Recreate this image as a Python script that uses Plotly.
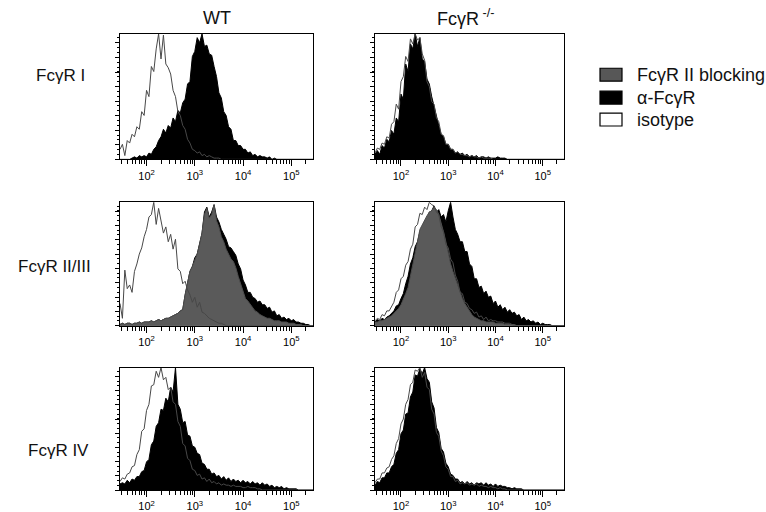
import math
import plotly.graph_objects as go

# ---------------- data ----------------
# histogram bins: log10 fluorescence, 0.05-decade bins from 10^1.45 to 10^5.45
LOG_BINS = [round(1.45 + 0.05 * i, 2) for i in range(81)]
X_VALS = [10 ** v for v in LOG_BINS]

def pad(vals):
    return vals + [0] * (81 - len(vals))

# normalised event counts (% of max)
TL_ISO = pad([8, 12, 3, 15, 13, 20, 18, 26, 24, 38, 35, 55, 50, 74, 70, 88, 100, 80, 99, 76,
              73, 68, 55, 50, 38, 35, 27, 24, 16, 13, 8, 7, 5, 6, 3, 4, 2, 3, 2, 1, 1, 1])
TL_BLK = pad([0, 0, 0, 0, 0, 1, 2, 1, 3, 2, 3, 2, 5, 4, 8, 10, 15, 18, 24, 21,
              27, 25, 33, 30, 39, 37, 45, 48, 60, 62, 82, 86, 97, 93, 100, 90, 91, 84, 83, 74,
              66, 53, 49, 38, 35, 26, 24, 15, 15, 11, 11, 8, 8, 5, 6, 3, 4, 2, 3, 2,
              2, 1, 2, 0, 1])
TR_ISO = pad([5, 9, 8, 13, 12, 18, 17, 28, 30, 44, 40, 62, 66, 82, 78, 96, 92, 100, 95, 97,
              84, 79, 62, 58, 46, 44, 33, 30, 20, 19, 12, 12, 8, 8, 5, 6, 4, 4, 3, 3,
              2, 3, 2, 2, 1, 2, 1, 1, 1, 1])
TR_BLK = pad([4, 7, 4, 11, 9, 16, 14, 23, 20, 33, 30, 52, 48, 76, 70, 92, 88, 100, 90, 97,
              80, 78, 64, 60, 50, 42, 33, 27, 20, 18, 12, 12, 8, 8, 5, 6, 4, 5, 3, 4,
              2, 3, 2, 3, 1, 2, 2, 1, 2, 1, 1, 1, 2, 1, 1, 1])
ML_ISO = pad([18, 6, 45, 30, 33, 27, 44, 50, 58, 63, 72, 78, 88, 90, 100, 82, 95, 86, 75, 80,
              68, 74, 62, 70, 46, 44, 34, 36, 29, 25, 19, 23, 15, 19, 11, 10, 8, 6, 5, 4,
              3, 2, 2, 1])
ML_BLK = pad([1, 2, 1, 2, 2, 1, 2, 2, 3, 2, 3, 3, 3, 4, 3, 4, 5, 4, 5, 6,
              6, 7, 8, 9, 10, 12, 13, 25, 36, 44, 48, 55, 58, 68, 75, 92, 96, 88, 92, 98,
              88, 84, 78, 74, 70, 64, 63, 60, 57, 50, 46, 37, 33, 27, 27, 23, 22, 19, 20, 17,
              17, 14, 15, 11, 12, 8, 9, 6, 7, 5, 6, 4, 5, 3, 3, 2, 2, 1, 1])
ML_GRY = pad([1, 2, 1, 2, 2, 1, 2, 2, 3, 2, 3, 3, 3, 4, 3, 4, 5, 4, 5, 6,
              6, 7, 8, 9, 10, 12, 13, 25, 36, 44, 48, 53, 58, 66, 75, 90, 95, 87, 90, 98,
              85, 80, 72, 68, 62, 58, 54, 52, 47, 40, 34, 28, 22, 20, 17, 14, 12, 11, 9, 8,
              7, 6, 6, 5, 4, 4, 4, 3, 3, 3, 2, 2, 2, 1, 1, 1])
MR_ISO = pad([4, 6, 5, 9, 8, 12, 12, 16, 19, 27, 29, 38, 40, 49, 52, 62, 66, 80, 82, 91,
              90, 96, 94, 100, 98, 97, 92, 90, 80, 76, 66, 63, 54, 51, 41, 36, 27, 26, 19, 18,
              14, 13, 10, 11, 7, 8, 5, 7, 4, 5, 4, 4, 3, 3, 3, 2, 2, 2, 1])
MR_GRY = pad([3, 3, 4, 4, 5, 6, 7, 8, 10, 12, 14, 17, 21, 26, 31, 40, 50, 57, 68, 78,
              82, 86, 89, 92, 93, 96, 94, 90, 84, 76, 68, 58, 50, 44, 38, 32, 27, 22, 18, 15,
              11, 9, 7, 6, 5, 4, 4, 3, 3, 3, 3, 2, 2, 2, 2, 1, 1, 1, 1, 1])
MR_BLK = pad([3, 5, 4, 6, 5, 7, 8, 10, 12, 16, 17, 22, 26, 34, 40, 50, 55, 64, 68, 76,
              78, 84, 86, 92, 93, 97, 92, 94, 88, 90, 84, 93, 100, 88, 78, 74, 68, 68, 60, 60,
              50, 48, 38, 38, 31, 32, 26, 28, 23, 24, 18, 20, 15, 17, 13, 15, 11, 13, 10, 11,
              8, 9, 5, 7, 4, 5, 3, 4, 2, 3, 1, 2, 1, 1, 1])
BL_ISO = pad([7, 10, 9, 13, 14, 19, 20, 29, 33, 48, 50, 65, 70, 85, 86, 97, 92, 100, 90, 92,
              82, 84, 72, 70, 56, 52, 38, 36, 26, 24, 17, 16, 12, 13, 9, 10, 7, 9, 6, 7,
              5, 6, 4, 5, 4, 4, 3, 4, 3, 3, 3, 2, 2, 3, 2, 2, 2, 1, 1])
BL_BLK = pad([5, 6, 5, 8, 6, 9, 8, 11, 11, 15, 16, 23, 25, 37, 40, 52, 55, 66, 65, 75,
              72, 84, 80, 100, 70, 66, 55, 56, 45, 44, 36, 35, 30, 29, 22, 21, 17, 17, 13, 14,
              11, 12, 9, 11, 8, 10, 7, 9, 7, 8, 6, 8, 6, 7, 5, 7, 5, 6, 4, 6,
              4, 5, 3, 4, 2, 3, 2, 3, 1, 2, 1, 1, 1, 1])
BR_ISO = pad([6, 9, 9, 14, 14, 18, 19, 25, 28, 38, 42, 54, 58, 70, 74, 86, 88, 98, 97, 100,
              92, 96, 84, 82, 66, 62, 47, 44, 32, 28, 19, 17, 11, 11, 7, 8, 5, 6, 5, 6,
              4, 5, 4, 5, 3, 4, 3, 3, 2, 3, 2, 2, 1, 2, 1, 1])
BR_BLK = pad([4, 7, 6, 10, 10, 14, 14, 19, 21, 30, 33, 46, 49, 62, 63, 76, 80, 94, 93, 99,
              95, 100, 91, 88, 72, 67, 51, 47, 34, 31, 22, 19, 13, 12, 9, 9, 6, 7, 5, 7,
              5, 6, 4, 6, 5, 6, 4, 6, 4, 5, 3, 5, 3, 4, 3, 3, 2, 2, 1, 2,
              1, 1, 1])

COL_TITLES = ["WT", "FcγR<sup> -/-</sup>"]
ROW_TITLES = ["FcγR I", "FcγR II/III", "FcγR IV"]
LEGEND_LABELS = ["FcγR II blocking", "α-FcγR", "isotype"]
TICK_VALS = [1e2, 1e3, 1e4, 1e5]
TICK_TEXT = ["10<sup>2</sup>", "10<sup>3</sup>", "10<sup>4</sup>", "10<sup>5</sup>"]
MINOR_VALS = [m * 10 ** e for e in range(1, 6) for m in range(2, 10)
              if 1.45 <= math.log10(m * 10 ** e) <= 5.45]

# panels: (row, col, alpha, blocking, isotype)
PANELS = [
    (0, 0, TL_BLK, None, TL_ISO),
    (0, 1, TR_BLK, None, TR_ISO),
    (1, 0, ML_BLK, ML_GRY, ML_ISO),
    (1, 1, MR_BLK, MR_GRY, MR_ISO),
    (2, 0, BL_BLK, None, BL_ISO),
    (2, 1, BR_BLK, None, BR_ISO),
]

# ---------------- layout geometry (pixels) ----------------
W, H = 766, 512
COL_PX = [(120, 313), (375, 564)]
ROW_PX = [(34, 160), (203, 327), (369, 492)]
FONT = "Liberation Sans, Arial, sans-serif"

fig = go.Figure()
layout = dict(
    width=W, height=H, margin=dict(l=0, r=0, t=0, b=0),
    paper_bgcolor="white", plot_bgcolor="white", showlegend=False,
    font=dict(family=FONT, color="#111"),
)

for k, (r, c, blk, gry, iso) in enumerate(PANELS):
    idx = "" if k == 0 else str(k + 1)
    xa, ya = "x" + idx, "y" + idx
    fig.add_trace(go.Scatter(x=X_VALS, y=blk, mode="lines",
                             line=dict(color="black", width=1), fill="tozeroy",
                             fillcolor="black", xaxis=xa, yaxis=ya, name=LEGEND_LABELS[1]))
    if gry is not None:
        fig.add_trace(go.Scatter(x=X_VALS, y=gry, mode="lines",
                                 line=dict(color="#4d4d4d", width=1), fill="tozeroy",
                                 fillcolor="#5a5a5a", xaxis=xa, yaxis=ya,
                                 name=LEGEND_LABELS[0]))
    fig.add_trace(go.Scatter(x=X_VALS, y=iso, mode="lines",
                             line=dict(color="#484848", width=1), xaxis=xa, yaxis=ya,
                             name=LEGEND_LABELS[2]))
    x0, x1 = COL_PX[c]
    y0, y1 = ROW_PX[r]
    layout["xaxis" + idx] = dict(
        type="log", range=[1.45, 5.45], domain=[x0 / W, x1 / W], anchor=ya,
        showline=True, linecolor="black", linewidth=1, mirror=True,
        showgrid=False, zeroline=False,
        tickmode="array", tickvals=TICK_VALS, ticktext=TICK_TEXT,
        ticks="outside", ticklen=6, tickwidth=1, tickcolor="black",
        tickfont=dict(size=11, family=FONT, color="black"),
        minor=dict(tickmode="array", tickvals=MINOR_VALS, ticks="outside",
                   ticklen=4, tickwidth=1, tickcolor="black", showgrid=False),
        fixedrange=True,
    )
    layout["yaxis" + idx] = dict(
        range=[0, 100], domain=[1 - y1 / H, 1 - y0 / H], anchor=xa,
        showline=True, linecolor="black", linewidth=1, mirror=True,
        showgrid=False, zeroline=False, showticklabels=False,
        tick0=0, dtick=11.6, ticks="outside", ticklen=4, tickwidth=1, tickcolor="black",
        minor=dict(dtick=3.87, ticks="outside", ticklen=2, tickwidth=1,
                   tickcolor="black", showgrid=False),
        fixedrange=True,
    )

fig.update_layout(**layout)

ann = []
for c, t in enumerate(COL_TITLES):
    ann.append(dict(x=(COL_PX[c][0] + COL_PX[c][1]) / 2 / W - (0 if c == 0 else 0.005),
                    y=1 - 18 / H, text=t, xref="paper", yref="paper", showarrow=False,
                    xanchor="center", yanchor="middle",
                    font=dict(size=18, family=FONT, color="#111")))
row_label_x = [60, 54, 58]
row_label_y = [76, 268, 452]
for r, t in enumerate(ROW_TITLES):
    ann.append(dict(x=row_label_x[r] / W, y=1 - row_label_y[r] / H, text=t,
                    xref="paper", yref="paper", showarrow=False,
                    xanchor="center", yanchor="middle",
                    font=dict(size=17, family=FONT, color="#111")))

legend_y = [75, 98, 120]
legend_fill = ["#575757", "black", "white"]
shapes = []
for i, lab in enumerate(LEGEND_LABELS):
    cy = legend_y[i]
    shapes.append(dict(type="rect", xref="paper", yref="paper",
                       x0=600 / W, x1=622 / W, y0=1 - (cy + 6.5) / H, y1=1 - (cy - 6.5) / H,
                       fillcolor=legend_fill[i], line=dict(color="black", width=1.2)))
    ann.append(dict(x=635 / W, y=1 - cy / H, text=lab, xref="paper", yref="paper",
                    xanchor="left", yanchor="middle", showarrow=False,
                    font=dict(size=18, family=FONT, color="#111")))

fig.update_layout(annotations=ann, shapes=shapes)
fig.write_html("out.html")
